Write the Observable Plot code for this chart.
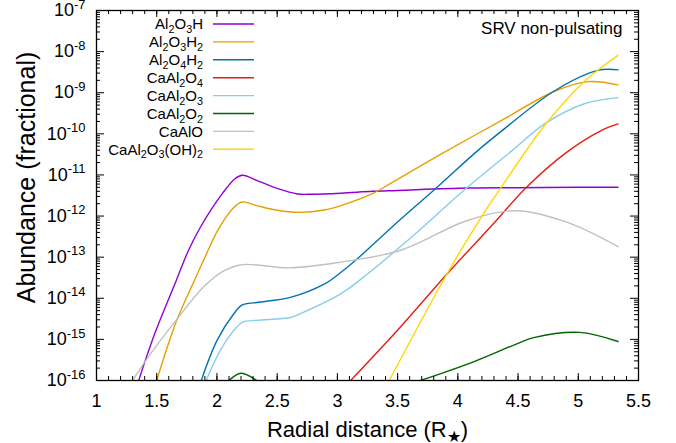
<!DOCTYPE html>
<html>
<head>
<meta charset="utf-8">
<script src="https://cdn.jsdelivr.net/npm/d3@7"></script>
<script src="https://cdn.jsdelivr.net/npm/@observablehq/plot@0.6"></script>
<style>
  body { margin: 0; background: #fff; }
</style>
</head>
<body>
<div id="chart"></div>
<script>
// Species shown, in legend order, with their line colours
const species = ["Al2O3H", "Al2O3H2", "Al2O4H2", "CaAl2O4", "CaAl2O3", "CaAl2O2", "CaAlO", "CaAl2O3(OH)2"];
const speciesColors = ["#9400d3", "#e69f00", "#0072b2", "#e51e10", "#87ceeb", "#006400", "#c0c0c0", "#ffd700"];

// Fractional abundance against radial distance (R*), one array per species: [r, abundance]
const al2o3h = [[1.35, 1e-16], [1.49, 1.55e-15], [1.66, 2.6e-14], [1.76, 1.38e-13], [1.86, 5.2e-13], [2.05, 3.7e-12],
  [2.15, 8.1e-12], [2.21, 9.8e-12], [2.34, 7.2e-12], [2.50, 4.7e-12], [2.67, 3.45e-12], [2.78, 3.4e-12],
  [3.03, 3.6e-12], [3.29, 4.0e-12], [3.5, 4.2e-12], [4.08, 4.8e-12], [4.5, 4.9e-12], [5.0, 5.0e-12], [5.33, 5.0e-12]];
const al2o3h2 = [[1.50, 1e-16], [1.66, 2.6e-15], [1.81, 2.6e-14], [1.91, 1.15e-13], [2.01, 4.7e-13], [2.14, 1.62e-12],
  [2.21, 2.2e-12], [2.33, 1.8e-12], [2.50, 1.38e-12], [2.69, 1.23e-12], [2.89, 1.4e-12], [3.03, 1.8e-12],
  [3.29, 3.5e-12], [3.47, 7.0e-12], [3.86, 3.2e-11], [4.36, 2.1e-10], [4.80, 1.07e-9], [5.08, 1.86e-9], [5.33, 1.55e-9]];
const al2o4h2 = [[1.87, 1e-16], [2.00, 9.3e-16], [2.14, 4.2e-15], [2.21, 6.9e-15], [2.33, 7.9e-15], [2.61, 1.05e-14],
  [2.89, 2.2e-14], [3.03, 4.3e-14], [3.18, 1.0e-13], [3.52, 8.1e-13], [3.84, 5.4e-12], [4.16, 3.8e-11],
  [4.36, 1.15e-10], [4.80, 1.1e-9], [5.16, 3.5e-9], [5.33, 3.6e-9]];
const caal2o4 = [[3.11, 1e-16], [3.52, 1.95e-15], [3.91, 3.9e-14], [4.32, 7.8e-13], [4.56, 4.7e-12], [4.90, 3.5e-11],
  [5.19, 1.2e-10], [5.33, 1.74e-10]];
const caal2o3 = [[1.91, 1e-16], [2.06, 7.8e-16], [2.21, 2.6e-15], [2.33, 2.9e-15], [2.61, 3.4e-15], [2.69, 4.2e-15],
  [3.03, 1.3e-14], [3.25, 3.9e-14], [3.58, 2.5e-13], [4.08, 5.0e-12], [4.45, 3.9e-11], [4.72, 1.74e-10],
  [5.05, 5.4e-10], [5.33, 7.6e-10]];
const caal2o2Inner = [[2.10, 1e-16], [2.20, 1.5e-16], [2.33, 1e-16]];
const caal2o2Outer = [[3.69, 1e-16], [4.08, 2.5e-16], [4.49, 7.8e-16], [4.63, 1.1e-15], [5.01, 1.48e-15], [5.33, 8.9e-16]];
const caalo = [[1.30, 1e-16], [1.41, 3.1e-16], [1.66, 2.9e-15], [1.89, 1.9e-14], [2.06, 4.7e-14], [2.21, 6.6e-14],
  [2.61, 5.5e-14], [3.03, 7.6e-14], [3.52, 1.45e-13], [4.08, 7.8e-13], [4.49, 1.35e-12], [4.91, 7.0e-13], [5.33, 1.8e-13]];
const caal2o3oh2 = [[3.43, 1e-16], [3.91, 3.9e-14], [4.20, 1.0e-12], [4.36, 5.0e-12], [4.58, 4.4e-11], [4.72, 1.6e-10],
  [5.03, 1.65e-9], [5.16, 3.5e-9], [5.33, 8.1e-9]];

// Axis ticks
const xMajor = [1, 1.5, 2, 2.5, 3, 3.5, 4, 4.5, 5, 5.5];
const yExponents = [-16, -15, -14, -13, -12, -11, -10, -9, -8, -7];

const segments = [
  ["Al2O3H", "a", al2o3h], ["Al2O3H2", "a", al2o3h2], ["Al2O4H2", "a", al2o4h2], ["CaAl2O4", "a", caal2o4],
  ["CaAl2O3", "a", caal2o3], ["CaAl2O2", "a", caal2o2Inner], ["CaAl2O2", "b", caal2o2Outer],
  ["CaAlO", "a", caalo], ["CaAl2O3(OH)2", "a", caal2o3oh2]
];
const rows = segments.flatMap(([name, part, pts]) =>
  pts.map(([r, abundance]) => ({species: name, part: name + part, r, abundance})));

const yMajor = yExponents.map(e => Math.pow(10, e));
const yMinor = yExponents.slice(0, -1).flatMap(e => d3.range(2, 10).map(k => k * Math.pow(10, e)));
const xMinor = d3.range(10, 56).map(i => i / 10);

const W = 676, H = 443;
const margin = {top: 10, right: 38, bottom: 63, left: 96};
const frameW = W - margin.left - margin.right;
const frameH = H - margin.top - margin.bottom;
const FONT = "'Liberation Sans', Arial, Helvetica, sans-serif";

const chart = Plot.plot({
  width: W,
  height: H,
  marginTop: margin.top,
  marginRight: margin.right,
  marginBottom: margin.bottom,
  marginLeft: margin.left,
  style: {fontFamily: FONT, fontSize: "18px", background: "#fff", color: "#000"},
  x: {domain: [1, 5.5], label: null},
  y: {type: "log", domain: [1e-16, 1e-7], label: null},
  color: {domain: species, range: speciesColors},
  marks: [
    Plot.line(rows, {x: "r", y: "abundance", z: "part", stroke: "species", strokeWidth: 1.4,
      curve: "catmull-rom", clip: true}),
    // inward tick marks on all four sides
    Plot.tickX(xMinor, {x: d => d, insetTop: frameH - 4, stroke: "#000"}),
    Plot.tickX(xMinor, {x: d => d, insetBottom: frameH - 4, stroke: "#000"}),
    Plot.tickX(xMajor, {x: d => d, insetTop: frameH - 7, stroke: "#000"}),
    Plot.tickX(xMajor, {x: d => d, insetBottom: frameH - 7, stroke: "#000"}),
    Plot.tickY(yMinor, {y: d => d, insetRight: frameW - 4, stroke: "#000"}),
    Plot.tickY(yMinor, {y: d => d, insetLeft: frameW - 4, stroke: "#000"}),
    Plot.tickY(yMajor, {y: d => d, insetRight: frameW - 8, stroke: "#000"}),
    Plot.tickY(yMajor, {y: d => d, insetLeft: frameW - 8, stroke: "#000"}),
    Plot.frame({stroke: "#000", strokeWidth: 1.3}),
    Plot.axisX(xMajor, {tickSize: 0, tickPadding: 14, fontSize: 18, tickFormat: d => String(d)}),
    Plot.axisY(yMajor, {tickSize: 0, tickPadding: 11, fontSize: 18,
      tickFormat: d => `10^{${Math.round(Math.log10(d))}}`}),
    Plot.text(["Radial distance (R_{★})"], {frameAnchor: "bottom", lineAnchor: "middle", dy: 49, fontSize: 22}),
    Plot.text(["Abundance (fractional)"], {frameAnchor: "left", rotate: -90, lineAnchor: "middle",
      textAnchor: "middle", dx: -70, dy: -18, fontSize: 25}),
    Plot.text(["SRV non-pulsating"], {frameAnchor: "top-right", lineAnchor: "top", textAnchor: "end",
      dx: -16, dy: 11, fontSize: 17})
  ]
});

document.getElementById("chart").appendChild(chart);

// Legend: species names with subscripted counts, and a short line sample
const legend = d3.select(chart).append("g")
  .attr("font-family", FONT).attr("font-size", 15).attr("fill", "#000");
species.forEach((name, i) => {
  const y = 24 + i * 17.9;
  legend.append("text").attr("x", 203).attr("y", y).attr("dy", "0.36em")
    .attr("text-anchor", "end").text(name.replace(/(\d)/g, "_{$1}"));
  legend.append("line").attr("x1", 213).attr("x2", 254).attr("y1", y).attr("y2", y)
    .attr("stroke", speciesColors[i]).attr("stroke-width", 1.4);
});

// Turn ^{...} / _{...} markup into raised / lowered tspans
function richText(el) {
  const str = el.textContent;
  if (!/[\^_]\{/.test(str)) return;
  const size = parseFloat(getComputedStyle(el).fontSize) || 18;
  const dyAttr = el.getAttribute("dy");
  let base = 0;
  if (dyAttr) {
    base = /em$/.test(dyAttr) ? parseFloat(dyAttr) * size : parseFloat(dyAttr);
    el.removeAttribute("dy");
  }
  const sel = d3.select(el);
  sel.text(null);
  const re = /([\^_])\{([^}]*)\}/g;
  let last = 0, cur = -base, m;
  const piece = (txt, offset, small) => {
    if (!txt) return;
    const t = sel.append("tspan").attr("dy", offset - cur).text(txt);
    if (small) t.attr("font-size", size * 0.72);
    cur = offset;
  };
  while ((m = re.exec(str))) {
    piece(str.slice(last, m.index), 0, false);
    piece(m[2], m[1] === "^" ? -0.42 * size : 0.24 * size, true);
    last = re.lastIndex;
  }
  piece(str.slice(last), 0, false);
}
d3.select(chart).selectAll("text").each(function() { richText(this); });
</script>
</body>
</html>
